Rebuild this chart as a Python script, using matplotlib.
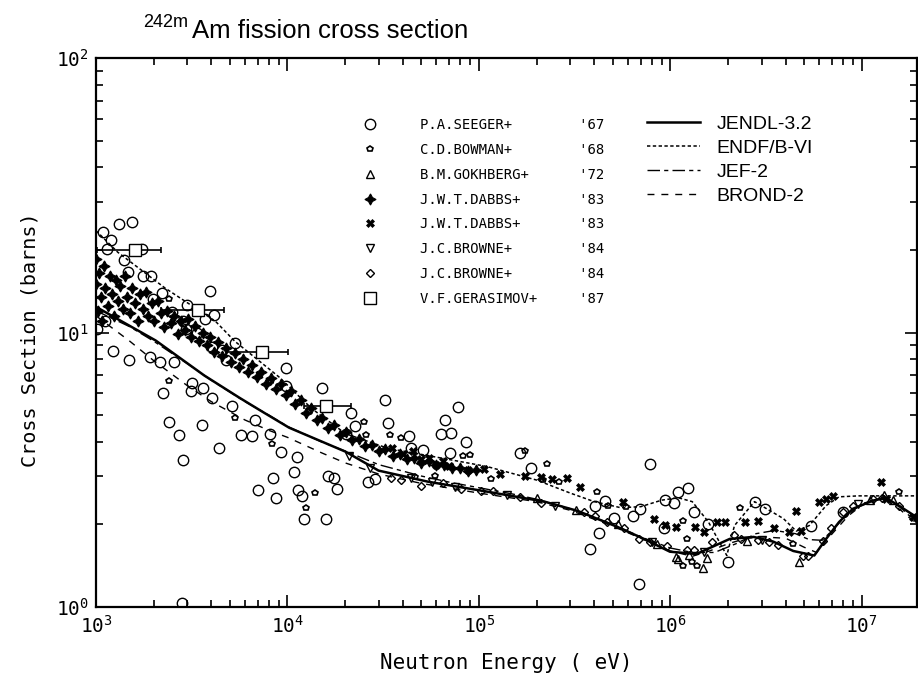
import numpy as np
import matplotlib
matplotlib.use('Agg')
import matplotlib.pyplot as plt
from matplotlib.ticker import LogLocator, FuncFormatter, NullFormatter

# evaluated curves (eV, barns)
jendl_E = [1.0e3, 2.05e3, 3.68e3, 5.6e3, 7.38e3, 1.02e4, 2.01e4, 2.99e4, 5.43e4, 1.11e5,
           2.2e5, 3.27e5, 5.27e5, 7.28e5, 9.94e5, 1.37e6, 2.04e6, 2.72e6, 3.45e6, 4.38e6,
           5.64e6, 6.5e6, 7.6e6, 8.98e6, 1.14e7, 1.33e7, 1.56e7, 1.94e7]
jendl_xs = [12.4, 9.35, 6.97, 5.79, 5.15, 4.50, 3.68, 3.14, 2.86, 2.63,
            2.42, 2.24, 1.96, 1.77, 1.59, 1.56, 1.77, 1.80, 1.73, 1.60,
            1.54, 1.77, 2.04, 2.28, 2.44, 2.50, 2.34, 2.12]

endf_E = [1.0e3, 1.3e3, 2.3e3, 4.2e3, 5.3e3, 9.0e3, 1.34e4, 2.01e4, 3.37e4, 5.43e4,
          1.1e5, 2.0e5, 3.0e5, 4.0e5, 5.5e5, 7.0e5, 9.0e5, 1.1e6, 1.3e6, 1.58e6,
          1.97e6, 2.16e6, 2.75e6, 3.89e6, 4.54e6, 5.31e6, 6.5e6, 7.6e6, 9.6e6, 1.94e7]
endf_xs = [23.5, 19.6, 14.5, 11.0, 9.3, 6.9, 5.28, 4.28, 3.78, 3.56,
           3.25, 2.9, 2.6, 2.42, 2.3, 2.32, 2.45, 2.5, 2.42, 2.04,
           1.54, 1.98, 2.42, 2.10, 1.89, 1.98, 2.34, 2.52, 2.54, 2.54]

jef_E = [1e3, 1.5e3, 2e3, 3e3, 4e3, 6e3, 8e3, 1e4, 1.5e4, 2e4, 3e4, 5e4, 7e4, 1e5, 1.5e5, 2e5,
         3e5, 5e5, 7e5, 1e6, 1.3e6, 1.7e6, 2.2e6, 2.8e6, 3.5e6, 4.5e6, 5.3e6, 6.2e6, 7e6, 8e6,
         1e7, 1.3e7, 1.6e7, 1.94e7]
jef_xs = [12.0, 10.5, 9.3, 7.7, 6.7, 5.6, 5.0, 4.55, 4.0, 3.7, 3.3, 3.0, 2.85, 2.72, 2.58, 2.47,
          2.28, 2.0, 1.8, 1.64, 1.58, 1.58, 1.7, 1.85, 1.9, 1.85, 1.76, 1.75, 1.9, 2.1,
          2.38, 2.5, 2.3, 2.02]

brond_E = [1e3, 1.5e3, 2e3, 3e3, 4e3, 6e3, 8e3, 1e4, 1.5e4, 2e4, 3e4, 5e4, 1e5, 2e5, 3e5, 5e5,
           7e5, 1e6, 1.3e6, 1.6e6, 2e6, 2.5e6, 3e6, 4e6, 5e6, 5.8e6, 7e6, 8.5e6, 1e7, 1.3e7,
           1.6e7, 1.94e7]
brond_xs = [11.5, 9.3, 7.9, 6.4, 5.6, 4.8, 4.4, 4.15, 3.65, 3.35, 3.05, 2.82, 2.6, 2.42, 2.25, 1.97,
            1.78, 1.6, 1.53, 1.6, 1.7, 1.78, 1.8, 1.78, 1.65, 1.58, 1.85, 2.15, 2.35, 2.5,
            2.25, 2.0]

# measurements
seeger_E = [1.32e3, 1.54e3, 1.09e3, 1.20e3, 1.14e3, 1.73e3, 1.40e3, 1.47e3, 1.75e3, 1.93e3,
            3.96e3, 2.20e3, 1.98e3, 2.97e3, 4.15e3, 3.73e3, 2.48e3, 2.83e3, 1.01e3, 1.11e3,
            2.94e3, 3.35e3, 5.34e3, 4.03e3, 4.57e3, 4.79e3, 1.22e3, 1.48e3, 1.91e3, 2.15e3,
            2.57e3, 9.82e3, 2.25e3, 3.13e3, 3.19e3, 3.64e3, 4.03e3, 9.82e3, 2.42e3, 3.59e3,
            2.70e3, 2.86e3, 4.41e3, 5.15e3, 5.73e3, 6.54e3, 6.78e3, 8.11e3, 9.25e3, 8.41e3,
            7.03e3, 8.71e3, 2.80e3,
            1.51e4, 2.14e4, 2.24e4, 2.01e4, 3.25e4, 3.33e4, 4.33e4, 7.78e4, 6.66e4, 6.35e4,
            7.16e4, 8.56e4, 4.43e4, 5.12e4, 7.06e4, 1.12e4, 1.08e4, 1.62e4, 1.75e4, 1.81e4,
            2.62e4, 2.88e4, 1.13e4, 1.19e4, 1.22e4, 1.58e4,
            1.63e5, 1.86e5, 7.83e5, 1.09e6, 1.23e6, 9.36e5, 1.04e6, 1.32e6, 4.57e5, 4.05e5,
            5.09e5, 6.38e5, 6.95e5, 9.25e5, 4.25e5, 3.82e5, 6.86e5, 1.99e6, 1.58e6, 2.78e6,
            3.10e6, 5.43e6, 7.96e6]
seeger_xs = [24.8, 25.2, 23.2, 21.8, 20.1, 20.1, 18.3, 16.6, 16.0, 16.0,
             14.2, 13.9, 13.2, 12.6, 11.6, 11.2, 11.9, 11.0, 10.3, 11.0,
             10.3, 10.0, 9.12, 8.82, 8.67, 7.91, 8.59, 7.91, 8.11, 7.78,
             7.83, 7.45, 6.02, 6.10, 6.57, 6.30, 5.79, 6.41, 4.73, 4.62,
             4.25, 3.44, 3.78, 5.42, 4.25, 4.21, 4.81, 4.28, 3.68, 2.96,
             2.67, 2.50, 1.03,
             6.30, 5.11, 4.58, 4.28, 5.69, 4.70, 4.21, 5.37, 4.78, 4.28,
             4.32, 4.00, 3.80, 3.74, 3.65, 3.53, 3.11, 3.01, 2.96, 2.70,
             2.86, 2.93, 2.67, 2.54, 2.10, 2.10,
             3.65, 3.22, 3.33, 2.63, 2.72, 2.46, 2.40, 2.22, 2.44, 2.34,
             2.11, 2.15, 2.27, 1.94, 1.86, 1.63, 1.21, 1.46, 2.01, 2.42,
             2.27, 1.97, 2.22]

bowman_E = [2.42e3, 2.40e3, 5.34e3, 8.3e3, 8.2e3, 1.47e4, 2.50e4, 2.58e4, 3.45e4, 3.94e4,
            4.65e4, 5.9e4, 8.26e4, 8.98e4, 1.39e4, 1.25e4, 1.73e5, 2.28e5, 2.15e5, 2.63e5,
            1.15e5, 4.15e5, 4.73e5, 5.87e5, 1.17e6, 1.22e6, 1.17e6, 1.29e6, 1.37e6, 2.3e6,
            4.38e6, 1.56e7]
bowman_xs = [13.3, 6.63, 4.90, 3.94, 6.63, 4.86, 4.73, 4.25, 4.25, 4.14,
             2.98, 3.01, 3.56, 3.58, 2.61, 2.30, 3.71, 3.31, 2.89, 2.86,
             2.93, 2.63, 2.34, 2.32, 2.06, 1.77, 1.41, 1.46, 1.41, 2.30,
             1.70, 2.63]

gokh_E = [2.0e5, 3.2e5, 5.3e5, 8.5e5, 1.07e6, 1.09e6, 1.25e6, 1.48e6, 1.56e6, 2.5e6,
          4.71e6, 1.1e7, 1.3e7, 1.45e7]
gokh_xs = [2.50, 2.25, 2.00, 1.70, 1.52, 1.49, 1.55, 1.39, 1.51, 1.74,
           1.46, 2.45, 2.55, 2.45]

dabbs_E = [1.00e3, 1.00e3, 1.02e3, 1.04e3, 1.06e3, 1.08e3, 1.10e3, 1.12e3, 1.15e3, 1.18e3,
           1.21e3, 1.24e3, 1.27e3, 1.30e3, 1.34e3, 1.38e3, 1.42e3, 1.46e3, 1.50e3, 1.55e3,
           1.60e3, 1.65e3, 1.70e3, 1.76e3, 1.82e3, 1.88e3, 1.95e3, 2.02e3, 2.10e3, 2.18e3,
           2.27e3, 2.36e3, 2.46e3, 2.56e3, 2.67e3, 2.78e3, 2.90e3, 3.02e3, 3.15e3, 3.30e3,
           3.45e3, 3.60e3, 3.78e3, 3.96e3, 4.15e3, 4.35e3, 4.56e3, 4.80e3, 5.05e3, 5.30e3,
           5.58e3, 5.88e3, 6.20e3, 6.55e3, 6.90e3, 7.30e3, 7.75e3, 8.20e3, 8.70e3, 9.20e3,
           9.80e3, 1.04e4, 1.10e4, 1.17e4, 1.25e4, 1.33e4, 1.42e4, 1.52e4, 1.63e4, 1.75e4,
           1.88e4, 2.02e4, 2.18e4, 2.35e4, 2.55e4, 2.77e4, 3.00e4, 3.25e4, 3.55e4, 3.85e4,
           4.20e4, 4.60e4, 5.00e4, 5.50e4, 6.00e4, 6.60e4, 7.20e4, 8.00e4, 8.80e4, 9.70e4]
dabbs_xs = [18.5, 15.0, 12.0, 16.5, 13.5, 11.0, 17.5, 14.5, 12.5, 16.0,
            13.8, 11.5, 15.5, 13.0, 14.8, 12.2, 16.0, 13.5, 11.8, 14.5,
            12.8, 11.0, 13.8, 12.2, 14.0, 11.5, 12.8, 11.0, 13.0, 11.8,
            10.5, 12.0, 10.8, 11.5, 9.9, 11.0, 10.2, 11.2, 9.6, 10.6,
            9.3, 10.0, 9.0, 9.6, 8.5, 9.2, 8.2, 8.8, 7.8, 8.4,
            7.5, 8.0, 7.2, 7.6, 6.9, 7.2, 6.5, 6.8, 6.2, 6.5,
            5.9, 6.1, 5.5, 5.7, 5.1, 5.3, 4.8, 4.9, 4.5, 4.6,
            4.25, 4.35, 4.05, 4.1, 3.85, 3.9, 3.7, 3.75, 3.55, 3.6,
            3.45, 3.5, 3.35, 3.4, 3.28, 3.3, 3.2, 3.22, 3.12, 3.15]

dabbsx_E = [3.5e4, 4.0e4, 4.5e4, 5.0e4, 5.5e4, 6.0e4, 6.5e4, 7.0e4,
            8.77e4, 1.06e5, 1.29e5, 1.75e5, 2.10e5, 2.42e5, 2.90e5, 3.39e5,
            5.66e5, 8.2e5, 9.36e5, 1.07e6, 1.34e6, 1.49e6, 1.75e6, 1.92e6,
            2.44e6, 2.88e6, 3.49e6, 4.18e6, 4.54e6, 4.82e6, 5.98e6, 6.50e6,
            7.06e6, 1.26e7, 1.33e7, 1.86e7]
dabbsx_xs = [3.8, 3.6, 3.7, 3.45, 3.5, 3.3, 3.4, 3.25,
             3.16, 3.19, 3.06, 3.01, 2.98, 2.93, 2.96, 2.74,
             2.42, 2.10, 1.99, 1.96, 1.96, 1.88, 2.04, 2.04,
             2.04, 2.06, 1.94, 1.88, 2.24, 1.89, 2.42, 2.48,
             2.54, 2.86, 2.48, 2.13]

brownea_E = [2.1e4, 2.7e4, 4.4e4, 5.7e4, 7.5e4, 1.4e5, 2.5e5, 8.0e5, 1.5e6, 3.0e6, 9.5e6]
brownea_xs = [3.55, 3.2, 2.95, 2.85, 2.74, 2.55, 2.33, 1.72, 1.58, 1.76, 2.38]

browneb_E = [3.49e4, 3.94e4, 5.0e4, 6.5e4, 8.06e4, 1.02e5, 1.18e5, 1.63e5, 2.10e5, 3.55e5,
             4.05e5, 4.68e5, 5.73e5, 6.86e5, 7.83e5, 9.6e5, 1.22e6, 1.32e6, 1.64e6, 2.14e6,
             2.35e6, 2.88e6, 3.29e6, 3.66e6, 4.94e6, 5.24e6, 6.27e6, 6.9e6, 7.96e6, 8.98e6,
             1.14e7, 1.27e7, 1.56e7]
browneb_xs = [2.96, 2.89, 2.76, 2.83, 2.70, 2.65, 2.65, 2.52, 2.40, 2.22,
              2.15, 2.04, 1.94, 1.77, 1.73, 1.67, 1.61, 1.61, 1.73, 1.83,
              1.77, 1.76, 1.73, 1.68, 1.54, 1.53, 1.74, 1.94, 2.22, 2.34,
              2.48, 2.50, 2.34]

gera_E = [1.6e3, 3.4e3, 7.4e3, 1.58e4]
gera_xs = [19.9, 12.1, 8.5, 5.42]
gera_lo = [1.01e3, 2.18e3, 4.79e3, 1.22e4]
gera_hi = [2.18e3, 4.67e3, 1.01e4, 2.14e4]

exp_labels = ["P.A.SEEGER+", "C.D.BOWMAN+", "B.M.GOKHBERG+", "J.W.T.DABBS+",
              "J.W.T.DABBS+", "J.C.BROWNE+", "J.C.BROWNE+", "V.F.GERASIMOV+"]
exp_years = ["'67", "'68", "'72", "'83", "'83", "'84", "'84", "'87"]
eval_labels = ["JENDL-3.2", "ENDF/B-VI", "JEF-2", "BROND-2"]

plt.rcParams['font.family'] = ['DejaVu Sans Mono']
plt.rcParams['mathtext.fontset'] = 'custom'
plt.rcParams['mathtext.rm'] = 'DejaVu Sans Mono'
plt.rcParams['mathtext.it'] = 'DejaVu Sans Mono'

W, H = 918, 680
fig = plt.figure(figsize=(W / 100, H / 100), dpi=100)
ax = fig.add_axes([96 / W, 1 - 607 / H, 821 / W, 549 / H])

l1, = ax.plot(jendl_E, jendl_xs, color='black', lw=1.8, zorder=2)
l2, = ax.plot(endf_E, endf_xs, color='black', lw=1.1, ls=(0, (2.2, 1.6)), zorder=2)
l3, = ax.plot(jef_E, jef_xs, color='black', lw=1.0, ls=(0, (9, 3, 3, 3)), zorder=2)
l4, = ax.plot(brond_E, brond_xs, color='black', lw=1.0, ls=(0, (5, 5)), zorder=2)

mk = dict(ls='none', color='black', zorder=3)
h_seeger, = ax.plot(seeger_E, seeger_xs, marker='o', ms=7.5, mfc='none', mew=1.0, **mk)
h_bowman, = ax.plot(bowman_E, bowman_xs, marker='p', ms=4, mfc='none', mew=1.2, **mk)
h_gokh, = ax.plot(gokh_E, gokh_xs, marker='^', ms=5.5, mfc='none', mew=1.0, **mk)
h_dabbs, = ax.plot(dabbs_E, dabbs_xs, marker=(4, 1, 0), ms=8, mfc='black', mew=0.8, **mk)
h_dabbsx, = ax.plot(dabbsx_E, dabbsx_xs, marker='X', ms=6, mfc='black', mew=0.5, **mk)
h_brownea, = ax.plot(brownea_E, brownea_xs, marker='v', ms=5.5, mfc='none', mew=1.0, **mk)
h_browneb, = ax.plot(browneb_E, browneb_xs, marker='D', ms=4.5, mfc='none', mew=1.0, **mk)
xerr = [np.array(gera_E) - np.array(gera_lo), np.array(gera_hi) - np.array(gera_E)]
ax.errorbar(gera_E, gera_xs, xerr=xerr, fmt='none', ecolor='black', elinewidth=1.2,
            capsize=2, capthick=1.2, zorder=3)
h_gera, = ax.plot(gera_E, gera_xs, marker='s', ms=8, mfc='white', mew=1.0, **mk)

ax.set_xscale('log')
ax.set_yscale('log')
ax.set_xlim(1e3, 1.94e7)
ax.set_ylim(1, 100)

def decade(v, pos):
    return r'$10^{%d}$' % int(round(np.log10(v)))

for a in (ax.xaxis, ax.yaxis):
    a.set_major_locator(LogLocator(base=10, numticks=12))
    a.set_minor_locator(LogLocator(base=10, subs=np.arange(2, 10), numticks=12))
    a.set_major_formatter(FuncFormatter(decade))
    a.set_minor_formatter(NullFormatter())
ax.tick_params(which='both', direction='in', top=True, right=True, width=1.2,
               labelsize=14, color='black')
ax.tick_params(which='major', length=9)
ax.tick_params(which='minor', length=5)
ax.tick_params(axis='x', pad=6)
ax.tick_params(axis='y', pad=5)
for s in ax.spines.values():
    s.set_linewidth(1.6)

leg1 = ax.legend([h_seeger, h_bowman, h_gokh, h_dabbs, h_dabbsx, h_brownea, h_browneb, h_gera],
                 [f"{n:<19s}{y}" for n, y in zip(exp_labels, exp_years)],
                 loc='upper left', bbox_to_anchor=(363 / W, 1 - 118 / H),
                 bbox_transform=fig.transFigure, frameon=False, borderpad=0,
                 borderaxespad=0, handlelength=1.0, handletextpad=3.1,
                 labelspacing=0.78, prop={'family': 'DejaVu Sans Mono', 'size': 10})
ax.add_artist(leg1)
ax.legend([l1, l2, l3, l4], eval_labels, loc='upper left',
          bbox_to_anchor=(647 / W, 1 - 115 / H), bbox_transform=fig.transFigure,
          frameon=False, borderpad=0, borderaxespad=0, handlelength=2.7,
          handletextpad=0.87, labelspacing=0.33,
          prop={'family': 'Liberation Sans', 'size': 14})

fig.text(143 / W, 1 - 27 / H, "242m", fontsize=13, family='Liberation Sans', va='baseline')
fig.text(192 / W, 1 - 38 / H, "Am fission cross section", fontsize=18.5,
         family='Liberation Sans', va='baseline')
fig.text(506 / W, 1 - 663 / H, "Neutron Energy ( eV)", fontsize=15, ha='center', va='center')
fig.text(30 / W, 1 - 340 / H, "Cross Section (barns)", fontsize=14.5, rotation=90,
         ha='center', va='center')

fig.savefig('out.png', dpi=100)
